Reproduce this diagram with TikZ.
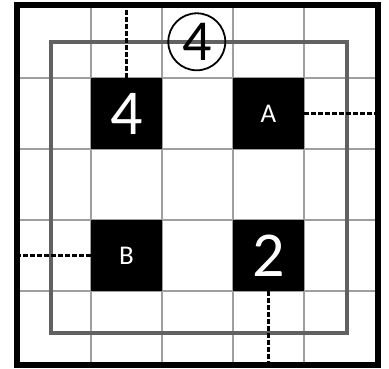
\documentclass[tikz,border=0pt]{standalone}
\usepackage{fontspec}
\setmainfont{Carlito}
\usepackage{tikz}

\begin{document}
\begin{tikzpicture}[x=71pt,y=71pt,
  gridline/.style={gray!75,line width=1.6pt},
  blackcell/.style={fill=black,text=white,minimum size=71pt,inner sep=0pt},
  bignum/.style={font=\fontsize{64}{64}\selectfont},
  letter/.style={font=\fontsize{27}{27}\selectfont},
  dashline/.style={line width=3pt,dash pattern=on 5pt off 2pt}]
  \useasboundingbox (-20pt,-6pt) rectangle (369pt,362pt);
  \foreach \i in {1,...,4}{
    \draw[gridline] (\i,0) -- (\i,5);
    \draw[gridline] (0,\i) -- (5,\i);}
  \draw[black!62,line width=4pt] (0.44,0.41) rectangle (4.6,4.51);
  \node[blackcell,bignum] (cellfour) at (1.5,3.5) {4};
  \node[blackcell,letter] (cellA) at (3.5,3.5) {A};
  \node[blackcell,letter] (cellB) at (1.5,1.5) {B};
  \node[blackcell,bignum] (celltwo) at (3.5,1.5) {2};
  \node[draw,circle,line width=1.8pt,minimum size=57pt,inner sep=0pt,
    font=\fontsize{58}{58}\selectfont] (clue) at (2.49,4.51) {4};
  \coordinate (topend) at (1.5,5);
  \coordinate (rightend) at (5,3.5);
  \coordinate (leftend) at (0,1.5);
  \coordinate (bottomend) at (3.5,0);
  \draw[dashline] (cellfour.north) -- (topend);
  \draw[dashline] (cellA.east) -- (rightend);
  \draw[dashline] (cellB.west) -- (leftend);
  \draw[dashline] (celltwo.south) -- (bottomend);
  \draw[line width=6pt] (-0.04,-0.04) rectangle (5.04,5.035);
\end{tikzpicture}
\end{document}
